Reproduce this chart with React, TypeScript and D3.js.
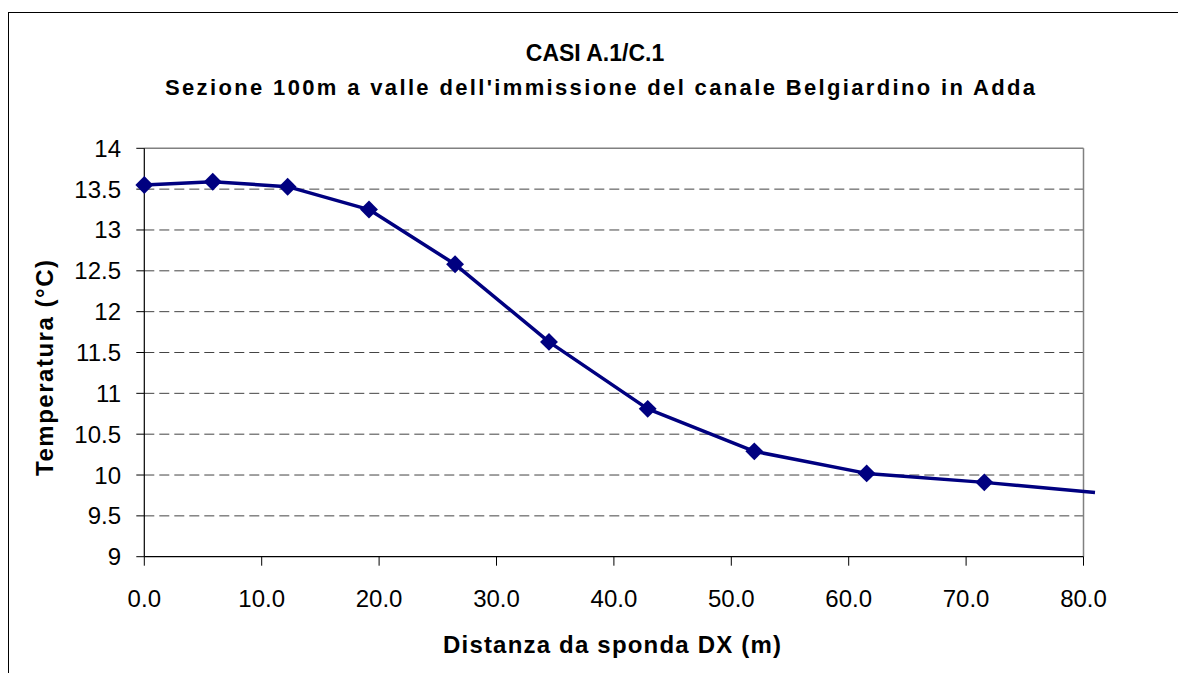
import { line, scaleLinear, symbol, symbolSquare } from "d3";

const distances = [0, 5.83, 12.21, 19.14, 26.47, 34.47, 42.88, 51.96, 61.53, 71.55, 80.98];
const temperatures = [13.55, 13.59, 13.53, 13.25, 12.58, 11.63, 10.81, 10.29, 10.02, 9.91, 9.785];
const xTicks = [0, 10, 20, 30, 40, 50, 60, 70, 80];
const yTicks = [9, 9.5, 10, 10.5, 11, 11.5, 12, 12.5, 13, 13.5, 14];

const chartTitle = "CASI A.1/C.1";
const chartSubtitle = "Sezione 100m a valle dell'immissione del canale Belgiardino in Adda";
const xTitle = "Distanza da sponda DX (m)";
const yTitle = "Temperatura (°C)";

export default function App() {
  const width = 1178;
  const height = 673;
  const plot = { left: 144.3, top: 148.3, right: 1083.5, bottom: 556.7 };
  const navy = "#000080";
  const font = "'Liberation Sans', Arial, sans-serif";

  const x = scaleLinear().domain([0, 80]).range([plot.left, plot.right]);
  const y = scaleLinear().domain([9, 14]).range([plot.bottom, plot.top]);

  const points = distances.map((d, i) => ({ d, t: temperatures[i] }));
  const path = line<{ d: number; t: number }>()
    .x((p) => x(p.d))
    .y((p) => y(p.t))(points) ?? "";
  const diamond = symbol(symbolSquare, 160)() ?? "";

  return (
    <svg width={width} height={height} style={{ position: "absolute", left: 0, top: 0, background: "#fff" }}>
      <rect x={0} y={0} width={width} height={height} fill="#fff" />
      {/* outer chart border, cut by the picture edge on right and bottom */}
      <rect x={8.5} y={12.5} width={width + 20} height={height + 20} fill="none" stroke="#000" strokeWidth="1" />

      <text x={595} y={61} textAnchor="middle" fontFamily={font} fontWeight="bold" fontSize="23" fill="#000">
        {chartTitle}
      </text>
      <text x={600} y={95} textAnchor="middle" fontFamily={font} fontWeight="bold" fontSize="22" fill="#000"
        textLength={870} lengthAdjust="spacing">
        {chartSubtitle}
      </text>

      {/* grid */}
      {yTicks.filter((t) => t > 9 && t < 14).map((t) => (
        <line key={t} x1={plot.left} x2={plot.right} y1={y(t)} y2={y(t)} stroke="#444" strokeWidth="1" strokeDasharray="10,5" />
      ))}
      <line x1={plot.left} x2={plot.right} y1={plot.top} y2={plot.top} stroke="#808080" strokeWidth="1.5" />
      <line x1={plot.right} x2={plot.right} y1={plot.top} y2={plot.bottom} stroke="#808080" strokeWidth="1.5" />

      {/* axes */}
      <line x1={plot.left} x2={plot.left} y1={plot.top} y2={plot.bottom} stroke="#000" strokeWidth="1.2" />
      <line x1={plot.left} x2={plot.right} y1={plot.bottom} y2={plot.bottom} stroke="#000" strokeWidth="1.2" />

      {yTicks.map((t) => (
        <g key={t}>
          <line x1={plot.left - 8} x2={plot.left} y1={y(t)} y2={y(t)} stroke="#000" strokeWidth="1" />
          <text x={121} y={y(t) + 8.5} textAnchor="end" fontFamily={font} fontSize="24" fill="#000">
            {t}
          </text>
        </g>
      ))}
      {xTicks.map((t) => (
        <g key={t}>
          <line x1={x(t)} x2={x(t)} y1={plot.bottom} y2={plot.bottom + 9} stroke="#000" strokeWidth="1" />
          <text x={x(t)} y={606.5} textAnchor="middle" fontFamily={font} fontSize="24" fill="#000">
            {t.toFixed(1)}
          </text>
        </g>
      ))}

      <text x={612} y={653} textAnchor="middle" fontFamily={font} fontWeight="bold" fontSize="24" fill="#000"
        textLength={338} lengthAdjust="spacing">
        {xTitle}
      </text>
      <text transform={`translate(53, 368) rotate(-90)`} textAnchor="middle" fontFamily={font} fontWeight="bold" fontSize="24" fill="#000"
        textLength={216} lengthAdjust="spacing">
        {yTitle}
      </text>

      <path d={path} fill="none" stroke={navy} strokeWidth="3.5" strokeLinejoin="round" />
      {points.filter((p) => p.d <= 80).map((p) => (
        <path key={p.d} d={diamond} transform={`translate(${x(p.d)}, ${y(p.t)}) rotate(45)`} fill={navy} />
      ))}
    </svg>
  );
}
